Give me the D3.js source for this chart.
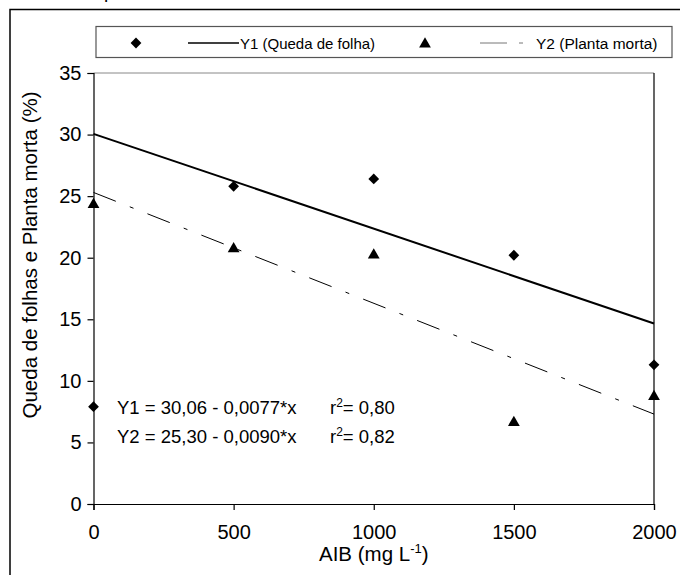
<!DOCTYPE html>
<html>
<head>
<meta charset="utf-8">
<script src="https://cdn.jsdelivr.net/npm/d3@7"></script>
<style>
  body { margin: 0; background: #fff; }
  svg { display: block; font-family: Arial, "Liberation Sans", sans-serif; }
  .axis text { font-size: 20px; fill: #000; }
  .axis path, .axis line { stroke: #000; stroke-width: 1.2px; }
</style>
</head>
<body>
<div id="chart"></div>
<script>
// doses of AIB (mg L-1)
const doses = [0, 500, 1000, 1500, 2000];
// Y1: queda de folhas (%)
const quedaFolha = [7.9, 25.8, 26.4, 20.2, 11.3];
// Y2: planta morta (%)
const plantaMorta = [24.4, 20.8, 20.3, 6.7, 8.8];

const xTicks = [0, 500, 1000, 1500, 2000];
const yTicks = [0, 5, 10, 15, 20, 25, 30, 35];

// fitted lines as given on the chart
const fitY1 = [30.06, -0.0077];
const fitY2 = [25.30, -0.0090];

const eqLabels = ["Y1 = 30,06 - 0,0077*x", "Y2 = 25,30 - 0,0090*x"];
const r2Labels = ["0,80", "0,82"];
const legendLabels = ["Y1 (Queda de folha)", "Y2 (Planta morta)"];

const width = 680, height = 575;
const plot = {left: 93.5, right: 654, top: 73, bottom: 504};

const svg = d3.select("#chart").append("svg")
    .attr("width", width)
    .attr("height", height);

svg.append("rect")
    .attr("width", width).attr("height", height)
    .attr("fill", "#fff");

// clipped title descender at the very top
svg.append("text")
    .attr("x", 104).attr("y", -2)
    .style("font-size", "19px")
    .text("p");

// outer frame (runs off the right and bottom edges)
svg.append("rect")
    .attr("x", 10).attr("y", 9.5)
    .attr("width", 700).attr("height", 600)
    .attr("fill", "none")
    .attr("stroke", "#000")
    .attr("stroke-width", 1.5);

const x = d3.scaleLinear().domain([0, 2000]).range([plot.left, plot.right]);
const y = d3.scaleLinear().domain([0, 35]).range([plot.bottom, plot.top]);

// plot area top and right borders
svg.append("line")
    .attr("x1", plot.left).attr("x2", plot.right)
    .attr("y1", plot.top).attr("y2", plot.top)
    .attr("stroke", "#888").attr("stroke-width", 1);
svg.append("line")
    .attr("x1", plot.right).attr("x2", plot.right)
    .attr("y1", plot.top).attr("y2", plot.bottom)
    .attr("stroke", "#000").attr("stroke-width", 1.2);

const xAxis = d3.axisBottom(x).tickValues(xTicks).tickFormat(d3.format("d"))
    .tickSizeOuter(0).tickSize(6).tickPadding(15);
const yAxis = d3.axisLeft(y).tickValues(yTicks).tickSizeOuter(0).tickSize(6).tickPadding(6);

svg.append("g")
    .attr("class", "axis x-axis")
    .attr("transform", `translate(0,${plot.bottom})`)
    .call(xAxis);

svg.append("g")
    .attr("class", "axis y-axis")
    .attr("transform", `translate(${plot.left},0)`)
    .call(yAxis);

// axis titles
svg.append("text")
    .attr("transform", `translate(37,255) rotate(-90)`)
    .attr("text-anchor", "middle")
    .style("font-size", "20.5px")
    .text("Queda de folhas e Planta morta (%)");

const xTitle = svg.append("text")
    .attr("x", (plot.left + plot.right) / 2)
    .attr("y", 561)
    .attr("text-anchor", "middle")
    .style("font-size", "20.5px");
xTitle.append("tspan").text("AIB (mg L");
xTitle.append("tspan").attr("dy", -8).style("font-size", "13px").text("-1");
xTitle.append("tspan").attr("dy", 8).text(")");

// regression lines
const fitLine = (c) => [[0, c[0] + c[1] * 0], [2000, c[0] + c[1] * 2000]];
const line = d3.line().x(d => x(d[0])).y(d => y(d[1]));

svg.append("path")
    .attr("d", line(fitLine(fitY1)))
    .attr("fill", "none")
    .attr("stroke", "#000")
    .attr("stroke-width", 2);

svg.append("path")
    .attr("d", line(fitLine(fitY2)))
    .attr("fill", "none")
    .attr("stroke", "#000")
    .attr("stroke-width", 1)
    .attr("stroke-dasharray", "24,15,4,15");

// markers
const diamond = d3.symbol().type(d3.symbolSquare).size(58);
const triangle = d3.symbol().type(d3.symbolTriangle).size(60);

svg.append("g").selectAll("path")
    .data(doses.map((d, i) => [d, quedaFolha[i]]))
    .join("path")
    .attr("d", diamond)
    .attr("transform", d => `translate(${x(d[0])},${y(d[1])}) rotate(45)`)
    .attr("fill", "#000");

svg.append("g").selectAll("path")
    .data(doses.map((d, i) => [d, plantaMorta[i]]))
    .join("path")
    .attr("d", triangle)
    .attr("transform", d => `translate(${x(d[0])},${y(d[1]) + 1})`)
    .attr("fill", "#000");

// equations
const eqG = svg.append("g").style("font-size", "18.5px");
eqLabels.forEach((t, i) => {
    eqG.append("text").attr("x", 117).attr("y", 414 + i * 29).text(t);
    const r = eqG.append("text").attr("x", 330).attr("y", 414 + i * 29);
    r.append("tspan").text("r");
    r.append("tspan").attr("dy", -7).style("font-size", "12px").text("2");
    r.append("tspan").attr("dy", 7).text("= " + r2Labels[i]);
});

// legend
const lg = svg.append("g");
lg.append("rect")
    .attr("x", 96).attr("y", 26.5)
    .attr("width", 576).attr("height", 31)
    .attr("fill", "#fff")
    .attr("stroke", "#555")
    .attr("stroke-width", 1.2);

const ly = 43;
lg.append("path").attr("d", diamond)
    .attr("transform", `translate(136,${ly}) rotate(45)`);
lg.append("line")
    .attr("x1", 188).attr("x2", 239).attr("y1", ly).attr("y2", ly)
    .attr("stroke", "#000").attr("stroke-width", 1.5);
lg.append("text").attr("x", 240).attr("y", ly + 5.5)
    .style("font-size", "15px").text(legendLabels[0]);

lg.append("path").attr("d", triangle)
    .attr("transform", `translate(425,${ly + 1})`);
lg.append("line")
    .attr("x1", 480).attr("x2", 524).attr("y1", ly).attr("y2", ly)
    .attr("stroke", "#777").attr("stroke-width", 1)
    .attr("stroke-dasharray", "27,12,4");
lg.append("text").attr("x", 536).attr("y", ly + 5.5)
    .style("font-size", "15.5px").text(legendLabels[1]);
</script>
</body>
</html>
